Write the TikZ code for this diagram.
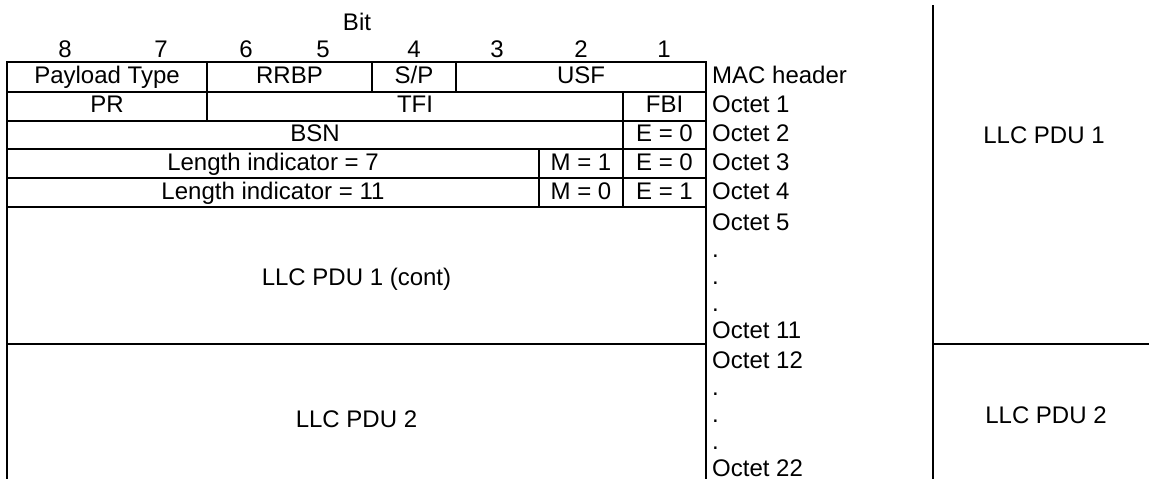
\documentclass[tikz,border=0pt]{standalone}
\usepackage{fontspec}
\setmainfont{Liberation Sans}
\begin{document}
\begin{tikzpicture}[x=1pt,y=-1pt,
  ln/.style={line width=2pt,line cap=rect},
  lbl/.style={anchor=base,inner sep=0pt,font=\fontsize{24}{27}\selectfont},
  oct/.style={anchor=base west,inner sep=0pt,font=\fontsize{24}{27}\selectfont}]
\useasboundingbox (0,0) rectangle (1149,479);
% grid
\draw[ln] (7,479) -- (7,61.5) -- (706,61.5) -- (706,479);
\foreach \y in {91.5,120.5,149.3,178.3,206.8,344} \draw[ln] (7,\y) -- (706,\y);
\draw[ln] (207,61.5) -- (207,120.5);
\draw[ln] (372,61.5) -- (372,91.5);
\draw[ln] (456,61.5) -- (456,91.5);
\draw[ln] (623,91.5) -- (623,206.8);
\draw[ln] (539,149.3) -- (539,206.8);
% right column
\draw[ln] (933,6) -- (933,479);
\draw[ln] (933,344) -- (1149,344);
% bit header
\node[lbl] (bit) at (357,30) {Bit};
\node[lbl] (b8) at (65,57) {8};
\node[lbl] (b7) at (161,57) {7};
\node[lbl] (b6) at (246,57) {6};
\node[lbl] (b5) at (323,57) {5};
\node[lbl] (b4) at (414,57) {4};
\node[lbl] (b3) at (497,57) {3};
\node[lbl] (b2) at (581,57) {2};
\node[lbl] (b1) at (664,57) {1};
% cells
\node[lbl] (pt) at (107,83) {Payload Type};
\node[lbl] (rrbp) at (289.5,83) {RRBP};
\node[lbl] (sp) at (414,83) {S/P};
\node[lbl] (usf) at (581,83) {USF};
\node[lbl] (pr) at (107,112.5) {PR};
\node[lbl] (tfi) at (415,112.5) {TFI};
\node[lbl] (fbi) at (664.5,112.5) {FBI};
\node[lbl] (bsn) at (315,141.5) {BSN};
\node[lbl] (e0a) at (664.5,141.5) {E = 0};
\node[lbl] (li7) at (273,170.5) {Length indicator = 7};
\node[lbl] (m1) at (581,170.5) {M = 1};
\node[lbl] (e0b) at (664.5,170.5) {E = 0};
\node[lbl] (li11) at (273,199.5) {Length indicator = 11};
\node[lbl] (m0) at (581,199.5) {M = 0};
\node[lbl] (e1) at (664.5,199.5) {E = 1};
\node[lbl] (pdu1c) at (356.5,285) {LLC PDU 1 (cont)};
\node[lbl] (pdu2) at (356.5,427) {LLC PDU 2};
% octet labels
\node[oct] (mac) at (712,83.5) {MAC header};
\node[oct] (o1) at (712,112.5) {Octet 1};
\node[oct] (o2) at (712,141) {Octet 2};
\node[oct] (o3) at (712,170.5) {Octet 3};
\node[oct] (o4) at (712,199.5) {Octet 4};
\node[oct] (o5) at (712,230) {Octet 5};
\node[oct] (d1) at (712,257) {.};
\node[oct] (d2) at (712,284) {.};
\node[oct] (d3) at (712,311) {.};
\node[oct] (o11) at (712,338) {Octet 11};
\node[oct] (o12) at (712,368) {Octet 12};
\node[oct] (d4) at (712,395) {.};
\node[oct] (d5) at (712,422) {.};
\node[oct] (d6) at (712,449) {.};
\node[oct] (o22) at (712,476) {Octet 22};
% right labels
\node[lbl] (r1) at (1044,143) {LLC PDU 1};
\node[lbl] (r2) at (1046,423) {LLC PDU 2};
\end{tikzpicture}
\end{document}
